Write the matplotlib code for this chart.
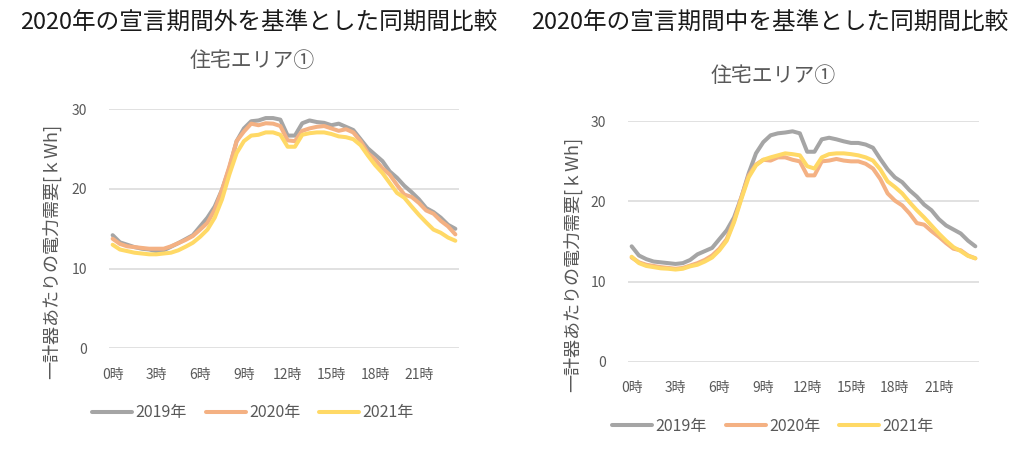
import matplotlib
matplotlib.use("Agg")
import matplotlib.pyplot as plt

plt.rcParams['font.family'] = ['Noto Sans CJK JP', 'DejaVu Sans']

hours = list(range(48))
tick_pos = [0, 6, 12, 18, 24, 30, 36, 42]
tick_labels = ["0時", "3時", "6時", "9時", "12時", "15時", "18時", "21時"]
years = ["2019年", "2020年", "2021年"]
colors = ["#A5A5A5", "#F4B183", "#FFD966"]

titles = ["2020年の宣言期間外を基準とした同期間比較", "2020年の宣言期間中を基準とした同期間比較"]
subtitle = "住宅エリア①"
ylabel = "一計器あたりの電力需要[ｋWh]"

left_2019 = [14.2, 13.3, 13.0, 12.7, 12.5, 12.4, 12.2, 12.3, 12.75, 13.2, 13.7, 14.2,
             15.3, 16.4, 17.8, 19.9, 22.6, 26.0, 27.6, 28.5, 28.6, 28.9, 28.9, 28.7,
             26.7, 26.7, 28.25, 28.6, 28.4, 28.3, 28.0, 28.2, 27.8, 27.4, 26.25, 25.1,
             24.3, 23.5, 22.2, 21.4, 20.4, 19.6, 18.7, 17.6, 17.1, 16.4, 15.5, 15.0]
left_2020 = [13.75, 13.1, 12.8, 12.7, 12.6, 12.5, 12.5, 12.5, 12.8, 13.2, 13.6, 14.1,
             14.9, 15.75, 17.4, 19.9, 22.8, 26.0, 27.2, 28.2, 28.0, 28.25, 28.2, 27.9,
             26.1, 26.0, 27.3, 27.6, 27.8, 27.9, 27.6, 27.3, 27.5, 27.1, 26.0, 24.5,
             23.7, 22.6, 21.8, 20.5, 19.3, 19.0, 18.25, 17.3, 16.9, 16.0, 15.3, 14.3]
left_2021 = [13.0, 12.4, 12.2, 12.0, 11.9, 11.8, 11.8, 11.9, 12.0, 12.3, 12.75, 13.25,
             14.0, 14.9, 16.4, 18.7, 21.8, 24.5, 26.0, 26.7, 26.8, 27.1, 27.1, 26.8,
             25.3, 25.3, 26.8, 27.0, 27.1, 27.1, 26.9, 26.6, 26.5, 26.25, 25.5, 24.2,
             23.0, 22.0, 20.75, 19.5, 18.9, 17.8, 16.75, 15.8, 14.9, 14.5, 13.9, 13.5]

right_2019 = [14.4, 13.25, 12.8, 12.5, 12.4, 12.3, 12.2, 12.3, 12.7, 13.4, 13.8, 14.2,
              15.3, 16.4, 18.0, 20.5, 23.5, 26.0, 27.4, 28.25, 28.5, 28.6, 28.75, 28.5,
              26.2, 26.2, 27.75, 27.95, 27.75, 27.5, 27.3, 27.3, 27.1, 26.7, 25.3, 24.0,
              23.0, 22.4, 21.4, 20.6, 19.6, 18.9, 17.8, 17.0, 16.5, 16.0, 15.1, 14.4]
right_2020 = [13.0, 12.4, 12.1, 11.95, 11.8, 11.7, 11.6, 11.7, 12.0, 12.3, 12.7, 13.25,
              14.1, 15.3, 17.6, 20.5, 23.25, 24.6, 25.2, 25.1, 25.5, 25.5, 25.2, 25.0,
              23.25, 23.25, 25.0, 25.1, 25.3, 25.1, 25.0, 25.0, 24.7, 24.1, 22.8, 21.0,
              20.1, 19.5, 18.5, 17.3, 17.1, 16.3, 15.6, 14.8, 14.1, 13.9, 13.25, 12.9]
right_2021 = [13.1, 12.3, 11.95, 11.8, 11.65, 11.6, 11.5, 11.6, 11.9, 12.1, 12.5, 13.0,
              13.9, 15.1, 17.4, 20.3, 23.0, 24.5, 25.2, 25.5, 25.75, 26.0, 25.9, 25.75,
              24.4, 24.1, 25.5, 25.9, 26.0, 26.0, 25.9, 25.75, 25.5, 25.1, 24.0, 22.5,
              21.8, 21.0, 19.9, 18.9, 18.0, 17.0, 16.0, 15.1, 14.3, 13.8, 13.2, 12.9]

W, H = 1033, 458
fig = plt.figure(figsize=(W / 100, H / 100), dpi=100)

def fx(px):
    return px / W

def fy(py):
    return 1 - py / H

panels = [
    dict(rect=(109, 109.3, 459, 348.3), data=[left_2019, left_2020, left_2021],
         title=(259, 23), sub=(252, 61), ylab=(52, 251), leg=(253, 413)),
    dict(rect=(628, 121.3, 979, 361.7), data=[right_2019, right_2020, right_2021],
         title=(770, 23), sub=(773, 76), ylab=(573, 264), leg=(773, 426)),
]

txt = "#595959"
for k, p in enumerate(panels):
    x0, y0, x1, y1 = p['rect']
    ax = fig.add_axes([fx(x0), fy(y1), (x1 - x0) / W, (y1 - y0) / H])
    for vals, c, lab in zip(p['data'], colors, years):
        ax.plot(hours, vals, color=c, lw=2.9, label=lab, solid_capstyle='round')
    ax.set_xlim(-0.5, 47.5)
    ax.set_ylim(0, 30)
    ax.set_yticks([0, 10, 20, 30])
    ax.set_xticks(tick_pos)
    ax.set_xticklabels(tick_labels)
    ax.grid(axis='y', color='#D9D9D9', lw=1.1)
    ax.set_axisbelow(True)
    for s in ax.spines.values():
        s.set_visible(False)
    ax.tick_params(length=0, labelsize=10, labelcolor=txt)
    ax.tick_params(axis='x', pad=14)
    ax.tick_params(axis='y', pad=16)
    fig.text(fx(p['title'][0]), fy(p['title'][1]), titles[k], ha='center', va='center',
             fontsize=17, color='#1a1a1a')
    fig.text(fx(p['sub'][0]), fy(p['sub'][1]), subtitle, ha='center', va='center',
             fontsize=15, color=txt)
    fig.text(fx(p['ylab'][0]), fy(p['ylab'][1]), ylabel, ha='center', va='center',
             rotation=90, fontsize=13, color=txt)
    handles, labels = ax.get_legend_handles_labels()
    leg = fig.legend(handles, labels, loc='center', ncol=3,
                     bbox_to_anchor=(fx(p['leg'][0]), fy(p['leg'][1])),
                     frameon=False, fontsize=11.5, handlelength=2.5, handletextpad=0.2,
                     columnspacing=1.2, labelcolor=txt)

fig.savefig("out.png", dpi=100)
